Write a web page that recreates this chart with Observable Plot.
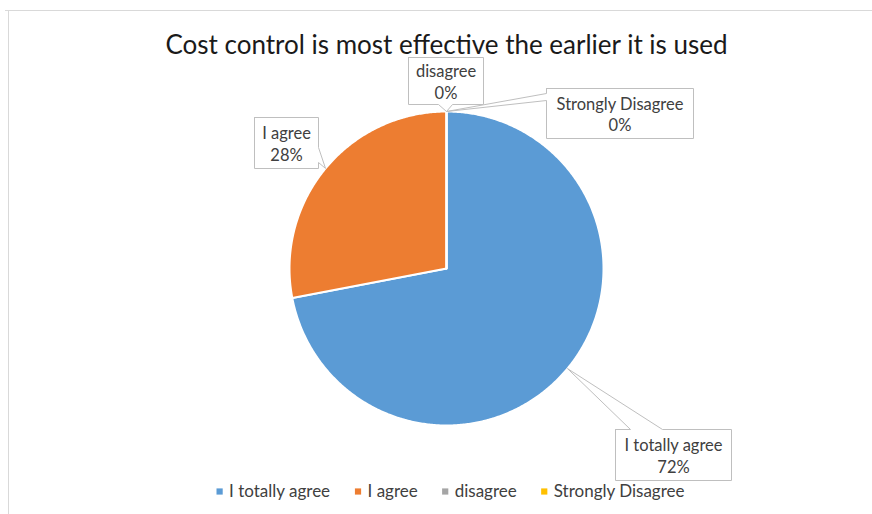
<!DOCTYPE html>
<html><head><meta charset="utf-8">
<script src="https://cdn.jsdelivr.net/npm/d3@7"></script>
<script src="https://cdn.jsdelivr.net/npm/@observablehq/plot@0.6"></script>
<style>body{margin:0;background:#fff}</style>
</head><body><div id="chart"></div>
<script>
// ---- data ----
const title = "Cost control is most effective the earlier it is used";
const categories = ["I totally agree", "I agree", "disagree", "Strongly Disagree"];
const values = [72, 28, 0, 0];
const valueLabels = ["72%", "28%", "0%", "0%"];
const colors = ["#5B9BD5", "#ED7D31", "#A5A5A5", "#FFC000"];

// ---- layout ----
const W = 872, H = 514;
const FONT = "Lato";
const LABEL_SIZE = 16.5, LEGEND_SIZE = 17, TITLE_SIZE = 26;
const pieGeom = {cx: 446, cy: 268, r: 157};
const callouts = [
  {i: 0, box: [615, 429, 731, 480], edge: "top", base: [630, 662]},
  {i: 1, box: [254, 117, 318, 168], edge: "right", base: [147, 162]},
  {i: 2, box: [408, 57, 483, 104], edge: "bottom", base: [438, 452]},
  {i: 3, box: [546, 88, 693, 138], edge: "left", base: [93, 100]}
];

const rows = categories.map((c, i) => ({name: c, value: values[i], label: valueLabels[i], color: colors[i]}));
const arcs = d3.pie().sort(null).value(d => d.value)(rows);
const pt = a => [pieGeom.cx + pieGeom.r * Math.sin(a), pieGeom.cy - pieGeom.r * Math.cos(a)];

const slicePts = [];
arcs.forEach((a, k) => {
  const n = Math.max(2, Math.ceil((a.endAngle - a.startAngle) / (Math.PI / 360)));
  slicePts.push({k, x: pieGeom.cx, y: pieGeom.cy, color: a.data.color});
  for (let j = 0; j <= n; j++) {
    const [x, y] = pt(a.startAngle + (a.endAngle - a.startAngle) * j / n);
    slicePts.push({k, x, y, color: a.data.color});
  }
  slicePts.push({k, x: pieGeom.cx, y: pieGeom.cy, color: a.data.color});
});

const calloutPts = [];
const calloutText = [];
callouts.forEach(c => {
  const a = arcs[c.i];
  const tip = pt((a.startAngle + a.endAngle) / 2);
  const [x1, y1, x2, y2] = c.box;
  let p;
  if (c.edge === "top") p = [[x1, y1], [c.base[0], y1], tip, [c.base[1], y1], [x2, y1], [x2, y2], [x1, y2], [x1, y1]];
  else if (c.edge === "right") p = [[x1, y1], [x2, y1], [x2, c.base[0]], tip, [x2, c.base[1]], [x2, y2], [x1, y2], [x1, y1]];
  else if (c.edge === "bottom") p = [[x1, y1], [x2, y1], [x2, y2], [c.base[1], y2], tip, [c.base[0], y2], [x1, y2], [x1, y1]];
  else p = [[x1, y1], [x2, y1], [x2, y2], [x1, y2], [x1, c.base[1]], tip, [x1, c.base[0]], [x1, y1]];
  p.forEach(([x, y]) => calloutPts.push({k: c.i, x, y}));
  calloutText.push({x: (x1 + x2) / 2, y: (y1 + y2) / 2, text: a.data.name + "\n" + a.data.label});
});

// legend layout measured
const ctx = document.createElement("canvas").getContext("2d");
ctx.font = `${LEGEND_SIZE}px ${FONT}`;
const sq = 7, gap = 6, sep = 24;
const widths = categories.map(c => ctx.measureText(c).width);
const total = widths.reduce((s, w) => s + sq + gap + w, 0) + sep * (categories.length - 1);
let lx = 450 - total / 2;
const legend = categories.map((c, i) => {
  const item = {name: c, color: colors[i], sx: lx + sq / 2, tx: lx + sq + gap};
  lx += sq + gap + widths[i] + sep;
  return item;
});
const LY = 491;

const chart = Plot.plot({
  width: W, height: H, margin: 0,
  x: {domain: [0, W], range: [0, W], axis: null},
  y: {domain: [0, H], range: [0, H], axis: null},
  style: {fontFamily: FONT, background: "#fff"},
  marks: [
    Plot.ruleX([8], {y1: 10, y2: H, stroke: "#d9d9d9", strokeWidth: 1}),
    Plot.ruleY([10], {x1: 5, x2: W, stroke: "#d9d9d9", strokeWidth: 1}),
    Plot.text([title], {x: 446, y: 45, text: d => d, fontSize: TITLE_SIZE, fill: "#1a1a1a"}),
    Plot.line(slicePts, {x: "x", y: "y", z: "k", fill: "color", stroke: "#fff", strokeWidth: 2, strokeLinejoin: "round", curve: "linear"}),
    Plot.line(calloutPts, {x: "x", y: "y", z: "k", fill: "#fff", stroke: "#bfbfbf", strokeWidth: 1, curve: "linear"}),
    Plot.text(calloutText, {x: "x", y: "y", text: "text", fontSize: LABEL_SIZE, lineHeight: 1.3, fill: "#404040"}),
    Plot.dot(legend, {x: "sx", y: LY, symbol: "square", r: 3.5, fill: "color", stroke: null}),
    Plot.text(legend, {x: "tx", y: LY, text: "name", textAnchor: "start", fontSize: LEGEND_SIZE, fill: "#404040"})
  ]
});
document.getElementById("chart").appendChild(chart);
</script>
</body></html>
